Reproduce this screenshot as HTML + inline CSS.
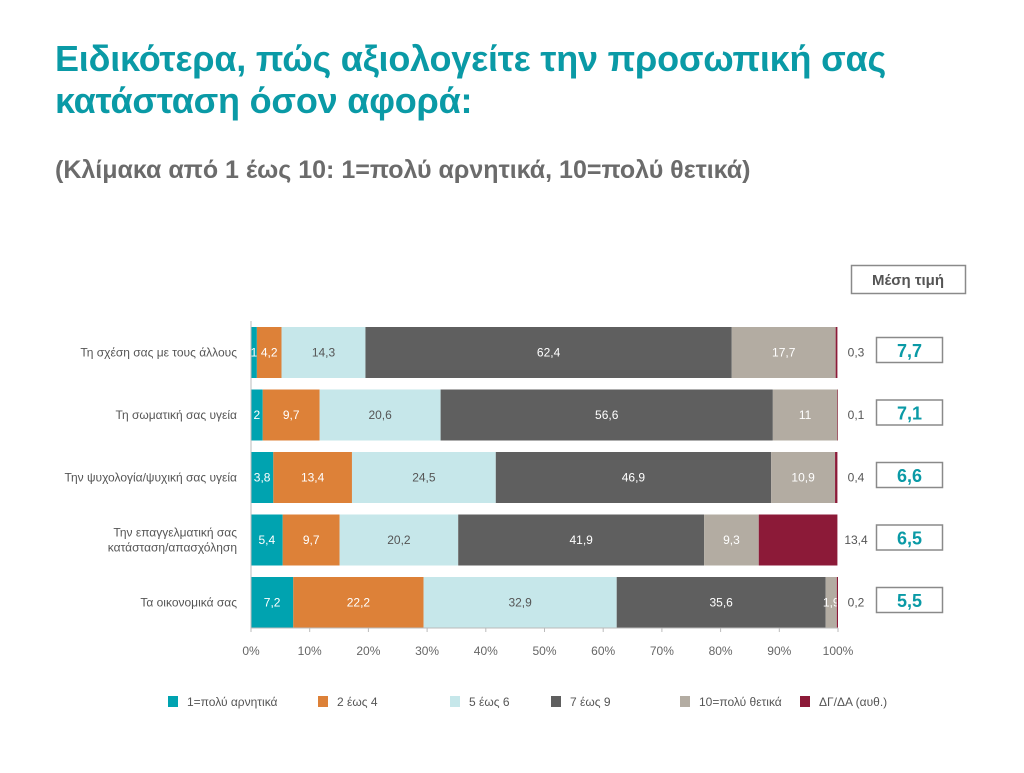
<!DOCTYPE html>
<html><head><meta charset="utf-8"><style>
body{margin:0;width:1024px;height:773px;background:#fff;font-family:"Liberation Sans",sans-serif;overflow:hidden;position:relative}
.t{position:absolute;left:55px;color:#0a9aa6;font-weight:bold;font-size:36px;letter-spacing:-0.2px;white-space:nowrap}
</style></head><body>
<div class="t" style="top:38px">Ειδικότερα, πώς αξιολογείτε την προσωπική σας</div>
<div class="t" style="top:80px">κατάσταση όσον αφορά:</div>
<div style="position:absolute;left:55px;top:156px;color:#6b6b6b;font-weight:bold;font-size:25px;white-space:nowrap">(Κλίμακα από 1 έως 10: 1=πολύ αρνητικά, 10=πολύ θετικά)</div>
<svg id="c" width="1024" height="773" style="position:absolute;left:0;top:0" font-family="Liberation Sans, sans-serif"></svg>
<script>
const categories=["Τη σχέση σας με τους άλλους","Τη σωματική σας υγεία","Την ψυχολογία/ψυχική σας υγεία","Την επαγγελματική σας|κατάσταση/απασχόληση","Τα οικονομικά σας"];
const s1=[1,2,3.8,5.4,7.2];
const s2=[4.2,9.7,13.4,9.7,22.2];
const s3=[14.3,20.6,24.5,20.2,32.9];
const s4=[62.4,56.6,46.9,41.9,35.6];
const s5=[17.7,11,10.9,9.3,1.9];
const s6=[0.3,0.1,0.4,13.4,0.2];
const means=["7,7","7,1","6,6","6,5","5,5"];
const seriesNames=["1=πολύ αρνητικά","2 έως 4","5 έως 6","7 έως 9","10=πολύ θετικά","ΔΓ/ΔΑ (αυθ.)"];
const ticks=[0,10,20,30,40,50,60,70,80,90,100];
const colors=["#00a3b0","#dd8138","#c6e7ea","#5f5f5f","#b3aca2","#8c1a38"];
const txtCol=["#fff","#fff","#555","#fff","#fff","#fff"];
const series=[s1,s2,s3,s4,s5,s6];
const X0=251,X1=838,Y0=327,PITCH=62.5,BH=51;
const x=v=>X0+(X1-X0)*v/100;
const svg=document.getElementById('c');const NS="http://www.w3.org/2000/svg";
function el(t,a,p){const e=document.createElementNS(NS,t);for(const k in a)e.setAttribute(k,a[k]);(p||svg).appendChild(e);return e;}
function fmt(v){return String(v).replace('.',',');}
categories.forEach((cat,i)=>{
  const y=Y0+i*PITCH;let acc=0;
  series.forEach((s,j)=>{
    const v=s[i];const r=el('rect',{x:x(acc),y:y,width:x(acc+v)-x(acc),height:BH,fill:colors[j]});
    
    
    if(j<5){const tx=el('text',{x:(x(acc)+x(acc+v))/2,y:y+BH/2+4,'text-anchor':'middle','font-size':12,fill:txtCol[j]});tx.textContent=fmt(v);
      
      }
    else{const tx=el('text',{x:856,y:y+BH/2+4,'text-anchor':'middle','font-size':12,fill:'#555'});tx.textContent=fmt(v);
      
      }
    acc+=v;
  });
  const lines=cat.split('|');
  lines.forEach((l,k)=>{const t=el('text',{x:237,y:y+BH/2+4+(k-(lines.length-1)/2)*15,'text-anchor':'end','font-size':12,fill:'#555'});t.textContent=l;
    
    });
  const b=el('rect',{x:876.5,y:y+10.5,width:66,height:25,fill:'#fff',stroke:'#8a8a8a','stroke-width':1.5});
  
  
  const m=el('text',{x:909.5,y:y+30,'text-anchor':'middle','font-size':18,'font-weight':'bold',fill:'#0a9aa6'});m.textContent=means[i];
  
  
});
el('line',{x1:X0,y1:321,x2:X0,y2:628,stroke:'#bbb'});
el('line',{x1:X0,y1:628,x2:X1,y2:628,stroke:'#bbb'});
ticks.forEach(t=>{el('line',{x1:x(t),y1:628,x2:x(t),y2:632,stroke:'#bbb'});
  const tx=el('text',{x:x(t),y:655,'text-anchor':'middle','font-size':12,fill:'#666'});tx.textContent=t+'%';
  
  });
const hb=el('rect',{x:851.5,y:265.5,width:114,height:28,fill:'#fff',stroke:'#8a8a8a','stroke-width':1.5});


const ht=el('text',{x:908,y:285,'text-anchor':'middle','font-size':15,'font-weight':'bold',fill:'#555'});ht.textContent='Μέση τιμή';


const lx=[168,318,450,551,680,800];
seriesNames.forEach((n,j)=>{
  const r=el('rect',{x:lx[j],y:696,width:10,height:11,fill:colors[j]});
  
  
  const t=el('text',{x:lx[j]+19,y:706,'font-size':12,fill:'#555'});t.textContent=n;
  
  
});
</script>
</body></html>
